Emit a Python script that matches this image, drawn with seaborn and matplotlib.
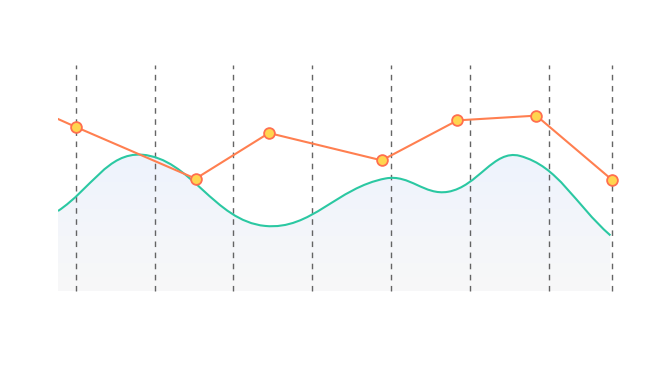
import numpy as np
import pandas as pd
import matplotlib
matplotlib.use("Agg")
import matplotlib.pyplot as plt
import seaborn as sns
from matplotlib.path import Path
from matplotlib.patches import PathPatch

# ---- data ----
tick_x = [10, 20, 30, 40, 50, 60, 70]
x_min, x_max = 7.75, 78.0
y_min, y_max = 0, 100

line_x = [5.0, 10.0, 25.2, 34.5, 48.8, 58.4, 68.4, 78.0]
line_y = [80.4, 72.6, 49.7, 69.9, 57.8, 75.5, 77.6, 49.2]
marker_x = line_x[1:]
marker_y = line_y[1:]

area_x = [7.75, 18.4, 34.0, 49.3, 57.2, 66.3, 77.8]
area_y = [35.4, 60.3, 28.8, 49.8, 43.9, 59.8, 24.6]

ORANGE = "#FF7F50"
GREEN = "#2BC8A2"

sns.set_theme(style="white")
fig = plt.figure(figsize=(6.47, 3.86), dpi=100)
ax = fig.add_axes([58 / 647, (386 - 291) / 386, (612 - 58) / 647, (291 - 65) / 386])
ax.set_xlim(x_min, x_max)
ax.set_ylim(y_min, y_max)

# pixel scale for smoothing
sx = (612 - 58) / (x_max - x_min)
sy = (291 - 65) / (y_max - y_min)


def smooth_path(xs, ys, smooth=0.4):
    P = np.column_stack([np.array(xs) * sx, np.array(ys) * sy])
    n = len(P)
    cps0, cps1 = [], []
    for i in range(n):
        prev = P[i - 1] if i > 0 else P[i]
        nxt = P[i + 1] if i < n - 1 else P[i]
        v = nxt - prev
        d0 = np.linalg.norm(P[i] - prev)
        d1 = np.linalg.norm(P[i] - nxt)
        s = d0 + d1
        if s > 0:
            d0 /= s
            d1 /= s
        cps0.append(P[i] - v * smooth * d0)
        cps1.append(P[i] + v * smooth * d1)
    verts = [P[0]]
    codes = [Path.MOVETO]
    for i in range(n - 1):
        verts += [cps1[i], cps0[i + 1], P[i + 1]]
        codes += [Path.CURVE4] * 3
    verts = np.array(verts)
    verts[:, 0] /= sx
    verts[:, 1] /= sy
    return verts, codes


verts, codes = smooth_path(area_x, area_y)

# gradient fill under curve
fill_verts = np.vstack([verts, [[area_x[-1], 0], [area_x[0], 0], verts[0]]])
fill_codes = list(codes) + [Path.LINETO, Path.LINETO, Path.CLOSEPOLY]
fill_patch = PathPatch(Path(fill_verts, fill_codes), facecolor="none", edgecolor="none")
ax.add_patch(fill_patch)
top = max(area_y)
grad = np.linspace(0, 1, 256).reshape(-1, 1)
c_top = np.array([238, 243, 253]) / 255
c_bot = np.array([248, 248, 248]) / 255
img = c_top[None, None, :] * (1 - grad[:, :, None]) + c_bot[None, None, :] * grad[:, :, None]
im = ax.imshow(img, extent=[x_min, x_max, 0, top], origin="upper", aspect="auto", zorder=1)
im.set_clip_path(fill_patch)

# green smooth line
ax.add_patch(PathPatch(Path(verts, codes), facecolor="none", edgecolor=GREEN, lw=1.5, zorder=3))

# dashed vertical grid lines
for tx in tick_x + [x_max]:
    ax.axvline(tx, color="#4a4a4a", lw=1, ls=(0, (4, 4)), alpha=0.85, zorder=2, clip_on=False)

# orange line + markers
df = pd.DataFrame({"x": line_x, "y": line_y})
sns.lineplot(data=df, x="x", y="y", ax=ax, color=ORANGE, lw=1.5, sort=False, zorder=4)
dm = pd.DataFrame({"x": marker_x, "y": marker_y})
sns.scatterplot(data=dm, x="x", y="y", ax=ax, s=60, color="#FFD54F", edgecolor="#FF6F4F",
                linewidth=1.3, zorder=5, clip_on=False)

ax.set_xlim(x_min, x_max)
ax.set_ylim(y_min, y_max)
ax.set_xlabel("")
ax.set_ylabel("")
ax.set_xticks([])
ax.set_yticks([])
for s in ax.spines.values():
    s.set_visible(False)

fig.savefig("out.png", dpi=100)
